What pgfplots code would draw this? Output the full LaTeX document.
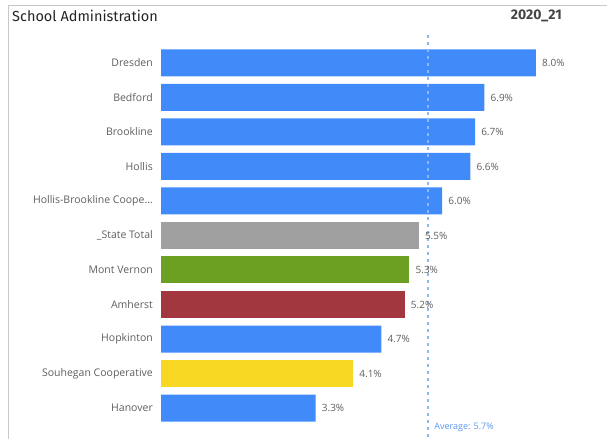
\documentclass[border=0pt]{standalone}
\usepackage{pgfplots}
\pgfplotsset{compat=1.18}
\usepackage{fontspec}
\setmainfont{Open Sans}
\newfontfamily\titlefont{Fira Sans}
\definecolor{barblue}{RGB}{64,138,250}
\definecolor{bargray}{RGB}{160,160,160}
\definecolor{bargreen}{RGB}{107,160,35}
\definecolor{barred}{RGB}{163,55,63}
\definecolor{baryellow}{RGB}{248,215,34}
\definecolor{avgblue}{RGB}{140,185,245}
\definecolor{avgtext}{RGB}{90,150,240}
\definecolor{labelgray}{RGB}{96,94,92}
\definecolor{titlegray}{RGB}{37,36,35}
\definecolor{framegray}{RGB}{200,200,200}

\begin{document}
\begin{tikzpicture}[x=1pt,y=1pt]
\useasboundingbox (0,0) rectangle (607,439);
\draw[framegray, line width=0.8pt] (8,0) -- (8,434) -- (607,434);
\node[anchor=west, inner sep=0pt, text=titlegray, font=\titlefont\fontsize{14.5}{16}\selectfont] at (12,423) {School Administration};
\node[anchor=east, inner sep=0pt, text=titlegray!85, font=\titlefont\bfseries\fontsize{14}{16}\selectfont] at (562,423) {2020\_21};
\begin{axis}[
  at={(161pt,2pt)}, anchor=south west,
  scale only axis,
  width=445.3pt, height=402pt,
  xmin=0, xmax=9.5,
  ymin=-0.81, ymax=10.84,
  y dir=reverse,
  axis line style={draw=none},
  tick style={draw=none},
  xtick=\empty,
  ytick={0,1,2,3,4,5,6,7,8,9,10},
  yticklabels={Dresden, Bedford, Brookline, Hollis, {Hollis-Brookline Coope\ldots}, {\_State Total}, Mont Vernon, Amherst, Hopkinton, Souhegan Cooperative, Hanover},
  yticklabel style={inner sep=0pt, xshift=-8pt, text=labelgray, font=\fontsize{10.5}{12}\selectfont},
  clip=false,
  /pgf/number format/assume math mode=true,
  bars/.style={xbar, bar width=27pt, bar shift=0pt, draw=none,
    point meta=x,
    nodes near coords={\pgfmathprintnumber[fixed,fixed zerofill,precision=1]{\pgfplotspointmeta}\%},
    every node near coord/.style={anchor=west, xshift=6pt, inner sep=0pt, text=labelgray, font=\fontsize{10}{11}\selectfont}},
]
\addplot[bars, fill=barblue] coordinates {
  (8.0,0) (6.9,1) (6.7,2) (6.6,3) (6.0,4) (4.7,8) (3.3,10)
};
\addplot[bars, fill=bargray] coordinates {(5.5,5)};
\addplot[bars, fill=bargreen] coordinates {(5.3,6)};
\addplot[bars, fill=barred] coordinates {(5.2,7)};
\addplot[bars, fill=baryellow] coordinates {(4.1,9)};
\addplot[avgblue, line width=1.6pt, dash pattern=on 3pt off 4pt] coordinates {(5.7,-0.81) (5.7,10.84)};
\node[anchor=west, inner sep=0pt, text=avgtext, font=\fontsize{9}{10}\selectfont] at (axis cs:5.7,10.55) {\hspace{6pt}Average: 5.7\%};
\end{axis}
\end{tikzpicture}
\end{document}
